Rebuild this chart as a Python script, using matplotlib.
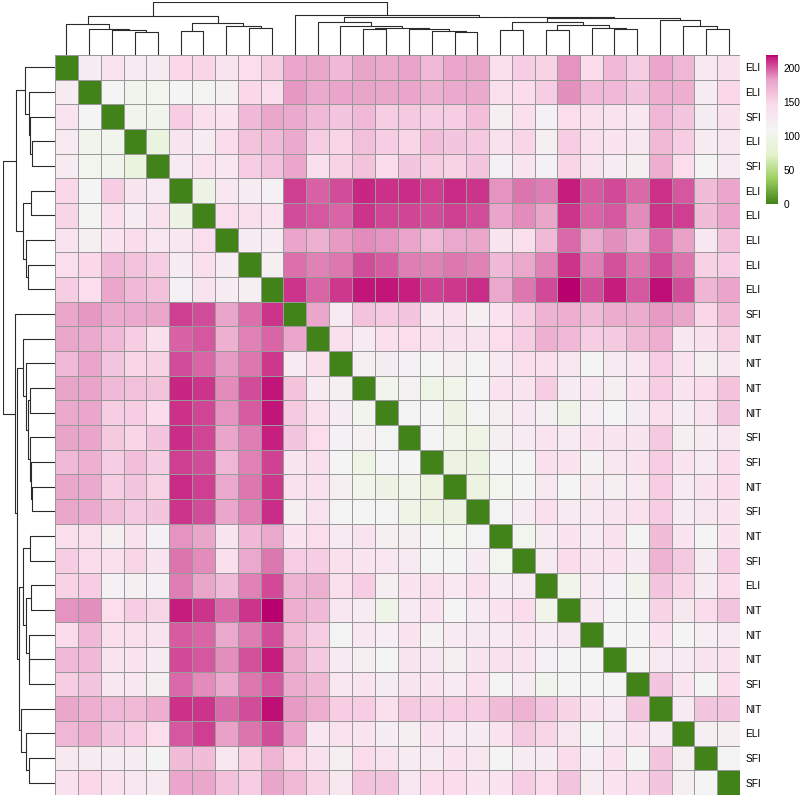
import numpy as np
import matplotlib
matplotlib.use("Agg")
import matplotlib.pyplot as plt
from matplotlib.colors import LinearSegmentedColormap, Normalize
import matplotlib as mpl

plt.rcParams['font.family'] = ['Liberation Sans', 'DejaVu Sans']

labels = ["ELI", "ELI", "SFI", "ELI", "SFI", "ELI", "ELI", "ELI", "ELI", "ELI",
          "SFI", "NIT", "NIT", "NIT", "NIT", "SFI", "SFI", "NIT", "SFI", "NIT",
          "SFI", "ELI", "NIT", "NIT", "NIT", "SFI", "NIT", "ELI", "SFI", "SFI"]

# upper triangle of the distance matrix: row i holds distances to j = i+1 .. 29
upper = [
    [122, 135, 125, 122, 148, 150, 135, 143, 155, 180, 180, 168, 182, 178, 182, 168, 180, 180, 140, 155, 152, 186, 146, 168, 155, 180, 170, 128, 138],
    [108, 102, 104, 108, 107, 117, 148, 143, 185, 178, 181, 182, 180, 181, 174, 178, 178, 142, 146, 155, 187, 168, 168, 160, 175, 175, 122, 148],
    [102, 102, 155, 142, 133, 168, 180, 178, 168, 160, 168, 155, 158, 155, 155, 165, 118, 140, 115, 145, 142, 136, 130, 170, 160, 120, 138],
    [88, 132, 122, 146, 162, 168, 178, 155, 150, 164, 155, 150, 165, 160, 158, 138, 150, 118, 155, 140, 133, 130, 167, 155, 122, 130],
    [124, 138, 130, 155, 164, 180, 142, 152, 162, 146, 160, 155, 152, 160, 116, 132, 116, 150, 136, 122, 118, 175, 145, 108, 124],
    [95, 130, 122, 116, 207, 198, 203, 213, 210, 211, 207, 212, 209, 186, 194, 191, 215, 200, 204, 196, 210, 201, 166, 180],
    [143, 140, 135, 203, 201, 197, 209, 205, 205, 203, 207, 203, 181, 188, 181, 209, 197, 201, 188, 209, 207, 166, 180],
    [122, 122, 181, 174, 184, 188, 186, 181, 170, 179, 180, 132, 141, 168, 196, 179, 187, 178, 196, 183, 130, 163],
    [118, 195, 190, 193, 203, 200, 191, 190, 193, 190, 168, 179, 190, 209, 191, 202, 193, 203, 194, 153, 155],
    [209, 197, 208, 216, 216, 214, 206, 208, 211, 179, 193, 204, 219, 203, 215, 201, 217, 203, 171, 181],
    [180, 124, 162, 158, 160, 132, 137, 118, 134, 155, 172, 175, 167, 177, 177, 184, 181, 149, 167],
    [142, 124, 140, 144, 142, 137, 136, 144, 155, 174, 168, 155, 157, 167, 175, 130, 139, 152],
    [118, 120, 116, 110, 118, 111, 125, 142, 141, 127, 112, 125, 129, 155, 136, 118, 127],
    [102, 114, 96, 100, 108, 136, 133, 155, 122, 129, 118, 133, 155, 134, 146, 162],
    [112, 108, 95, 112, 117, 130, 117, 98, 119, 108, 120, 142, 120, 136, 161],
    [108, 100, 97, 118, 124, 133, 124, 133, 132, 132, 158, 117, 121, 129],
    [92, 92, 110, 110, 142, 133, 113, 130, 133, 155, 133, 124, 146],
    [92, 104, 110, 128, 108, 124, 118, 124, 155, 124, 133, 146],
    [112, 122, 140, 124, 128, 132, 138, 155, 121, 127, 133],
    [104, 121, 133, 124, 138, 108, 166, 133, 108, 133],
    [124, 146, 133, 133, 121, 172, 158, 121, 155],
    [100, 124, 115, 102, 160, 150, 121, 146],
    [126, 108, 110, 151, 127, 146, 161],
    [108, 108, 133, 108, 119, 124],
    [108, 124, 124, 133, 133],
    [160, 133, 108, 146],
    [124, 160, 160],
    [118, 118],
    [108],
]

# hierarchical merges (child a, child b, height); ids >= 30 are earlier merges
merges = [
    (3, 4, 68), (2, 30, 75), (1, 31, 79), (0, 32, 92),
    (5, 6, 71), (8, 9, 82), (7, 35, 87), (34, 36, 97), (33, 37, 117),
    (17, 18, 68), (16, 39, 71), (15, 40, 77), (13, 14, 77), (42, 41, 82),
    (12, 43, 88), (11, 44, 98),
    (19, 20, 76), (21, 22, 74), (24, 25, 78), (23, 48, 80), (47, 49, 89),
    (46, 50, 98), (28, 29, 79), (27, 52, 87), (26, 53, 104), (51, 54, 110),
    (45, 55, 115), (10, 56, 120), (38, 57, 158),
]

n = len(labels)
dist = np.zeros((n, n))
for i, row in enumerate(upper):
    for k, v in enumerate(row):
        dist[i, i + 1 + k] = v
        dist[i + 1 + k, i] = v

cmap = LinearSegmentedColormap.from_list(
    "piyg",
    [(0.0, "#418219"), (1 / 6, "#9ccf62"), (2 / 6, "#e4f3cd"), (3 / 6, "#f4f4f4"),
     (4 / 6, "#fbdcec"), (5 / 6, "#e9a3c9"), (0.985, "#c51b7d"), (1.0, "#b8006e")], N=256)
norm = Normalize(vmin=0, vmax=dist.max())


def dendro(merges, n):
    pos = {i: (i + 0.5, 0.0) for i in range(n)}
    segs = []
    for k, (a, b, h) in enumerate(merges):
        xa, ha = pos[a]
        xb, hb = pos[b]
        segs.append(([xa, xa, xb, xb], [ha, h, h, hb]))
        pos[n + k] = ((xa + xb) / 2, h)
    return segs


fig = plt.figure(figsize=(8, 8), dpi=100)


def box(x0, y0, x1, y1):
    return [x0 / 800, 1 - y1 / 800, (x1 - x0) / 800, (y1 - y0) / 800]


ax = fig.add_axes(box(55, 55, 740, 795))
ax.pcolormesh(dist, cmap=cmap, norm=norm, edgecolors="#999999", linewidth=0.7)
ax.set_xlim(0, n)
ax.set_ylim(n, 0)
ax.set_xticks([])
ax.set_yticks(np.arange(n) + 0.5)
ax.set_yticklabels(labels, fontsize=7.3)
ax.yaxis.tick_right()
ax.tick_params(axis="y", length=0, pad=4)
for s in ax.spines.values():
    s.set_visible(False)

segs = dendro(merges, n)
top = max(h for _, _, h in merges)

axc = fig.add_axes(box(55, 2.3, 740, 55))
for xs, ys in segs:
    axc.plot(xs, ys, color="#2b2b2b", lw=0.8, solid_capstyle="butt")
axc.set_xlim(0, n)
axc.set_ylim(0, top)
axc.axis("off")

axr = fig.add_axes(box(2.7, 55, 55, 795))
for xs, ys in segs:
    axr.plot(ys, xs, color="#2b2b2b", lw=0.8, solid_capstyle="butt")
axr.set_ylim(n, 0)
axr.set_xlim(top, 0)
axr.axis("off")

cax = fig.add_axes(box(766, 55, 778, 204))
cb = mpl.colorbar.ColorbarBase(cax, cmap=cmap, norm=norm, ticks=[0, 50, 100, 150, 200])
cb.outline.set_visible(False)
cax.tick_params(length=0, labelsize=7.3, pad=4)

fig.savefig("out.png", dpi=100)
